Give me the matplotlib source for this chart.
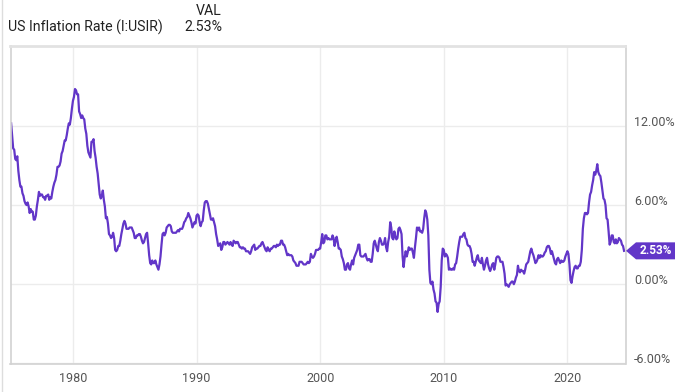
import numpy as np
import matplotlib
matplotlib.use("Agg")
import matplotlib.pyplot as plt
from matplotlib.lines import Line2D
from matplotlib.patches import Polygon
from matplotlib.transforms import ScaledTranslation

plt.rcParams['font.family'] = ['Roboto', 'DejaVu Sans']

# monthly US CPI inflation (%), Jan 1975 .. Aug 2024
start_year = 1975
rates = [
    12.2, 11.2, 10.3, 10.2, 9.5, 9.4, 9.7, 8.6, 7.9, 7.4, 7.4, 6.9,
    6.7, 6.3, 6.1, 6.0, 6.2, 5.9, 5.4, 5.7, 5.5, 5.5, 4.9, 4.9,
    5.2, 5.9, 6.4, 7.0, 6.7, 6.8, 6.8, 6.6, 6.6, 6.4, 6.7, 6.7,
    6.8, 6.4, 6.6, 6.5, 7.0, 7.4, 7.7, 7.9, 8.3, 8.9, 8.9, 9.0,
    9.3, 9.9, 10.1, 10.5, 10.9, 10.9, 11.3, 11.8, 12.2, 12.1, 12.6, 13.3,
    13.9, 14.2, 14.8, 14.7, 14.4, 14.4, 13.1, 12.9, 12.6, 12.8, 12.6, 12.5,
    11.8, 11.4, 10.5, 10.0, 9.8, 9.6, 10.8, 10.8, 11.0, 10.1, 9.6, 8.9,
    8.4, 7.6, 6.8, 6.5, 6.7, 7.1, 6.4, 5.9, 5.0, 5.1, 4.6, 3.8,
    3.7, 3.5, 3.6, 3.9, 3.5, 2.6, 2.5, 2.6, 2.9, 2.9, 3.3, 3.8,
    4.2, 4.6, 4.8, 4.6, 4.2, 4.2, 4.2, 4.3, 4.3, 4.3, 4.1, 3.9,
    3.5, 3.5, 3.7, 3.7, 3.8, 3.8, 3.6, 3.3, 3.1, 3.2, 3.5, 3.8,
    3.9, 3.1, 2.2, 1.6, 1.5, 1.8, 1.6, 1.6, 1.8, 1.5, 1.3, 1.1,
    1.5, 2.1, 3.0, 3.8, 3.9, 3.7, 3.9, 4.3, 4.4, 4.5, 4.5, 4.4,
    4.0, 3.9, 3.9, 3.9, 3.9, 4.0, 4.1, 4.0, 4.2, 4.2, 4.2, 4.4,
    4.7, 4.8, 5.0, 5.1, 5.4, 5.2, 5.0, 4.7, 4.3, 4.5, 4.7, 4.6,
    5.2, 5.3, 5.2, 4.7, 4.4, 4.7, 4.8, 5.6, 6.2, 6.3, 6.3, 6.1,
    5.7, 5.3, 4.9, 4.9, 5.0, 4.7, 4.4, 3.8, 3.4, 2.9, 3.0, 3.1,
    2.6, 2.8, 3.2, 3.2, 3.0, 3.1, 3.2, 3.1, 3.0, 3.2, 3.0, 2.9,
    3.3, 3.2, 3.1, 3.2, 3.2, 3.0, 2.8, 2.8, 2.7, 2.8, 2.7, 2.7,
    2.5, 2.5, 2.5, 2.4, 2.3, 2.5, 2.8, 2.9, 3.0, 2.6, 2.7, 2.7,
    2.8, 2.9, 2.9, 3.1, 3.2, 3.0, 2.8, 2.6, 2.5, 2.8, 2.6, 2.5,
    2.7, 2.7, 2.8, 2.9, 2.9, 2.8, 3.0, 2.9, 3.0, 3.0, 3.3, 3.3,
    3.0, 3.0, 2.8, 2.5, 2.2, 2.3, 2.2, 2.2, 2.2, 2.1, 1.8, 1.7,
    1.6, 1.4, 1.4, 1.4, 1.7, 1.7, 1.7, 1.6, 1.5, 1.5, 1.5, 1.6,
    1.7, 1.6, 1.7, 2.3, 2.1, 2.0, 2.1, 2.3, 2.6, 2.6, 2.6, 2.7,
    2.7, 3.2, 3.8, 3.1, 3.2, 3.7, 3.7, 3.4, 3.5, 3.4, 3.4, 3.4,
    3.7, 3.5, 2.9, 3.3, 3.6, 3.2, 2.7, 2.7, 2.6, 2.1, 1.9, 1.6,
    1.1, 1.1, 1.5, 1.6, 1.2, 1.1, 1.5, 1.8, 1.5, 2.0, 2.2, 2.4,
    2.6, 3.0, 3.0, 2.2, 2.1, 2.1, 2.1, 2.2, 2.3, 2.0, 1.8, 1.9,
    1.9, 1.7, 1.7, 2.3, 3.1, 3.3, 3.0, 2.7, 2.5, 3.2, 3.5, 3.3,
    3.0, 3.0, 3.1, 3.5, 2.8, 2.5, 3.2, 3.6, 4.7, 4.3, 3.5, 3.4,
    4.0, 3.6, 3.4, 3.5, 4.2, 4.3, 4.1, 3.8, 2.1, 1.3, 2.0, 2.5,
    2.1, 2.4, 2.8, 2.6, 2.7, 2.7, 2.4, 2.0, 2.8, 3.5, 4.3, 4.1,
    4.3, 4.0, 4.0, 3.9, 4.2, 5.0, 5.6, 5.4, 4.9, 3.7, 1.1, 0.1,
    0.0, 0.2, -0.4, -0.7, -1.3, -1.4, -2.1, -1.5, -1.3, -0.2, 1.8, 2.7,
    2.6, 2.1, 2.3, 2.2, 2.0, 1.1, 1.2, 1.1, 1.1, 1.2, 1.1, 1.5,
    1.6, 2.1, 2.7, 3.2, 3.6, 3.6, 3.6, 3.8, 3.9, 3.5, 3.4, 3.0,
    2.9, 2.9, 2.7, 2.3, 1.7, 1.7, 1.4, 1.7, 2.0, 2.2, 1.8, 1.7,
    1.6, 2.0, 1.5, 1.1, 1.4, 1.8, 2.0, 1.5, 1.2, 1.0, 1.2, 1.5,
    1.6, 1.1, 1.5, 2.0, 2.1, 2.1, 2.0, 1.7, 1.7, 1.7, 1.3, 0.8,
    -0.1, 0.0, -0.1, -0.2, 0.0, 0.1, 0.2, 0.2, 0.0, 0.2, 0.5, 0.7,
    1.4, 1.0, 0.9, 1.1, 1.0, 1.0, 0.8, 1.1, 1.5, 1.6, 1.7, 2.1,
    2.5, 2.7, 2.4, 2.2, 1.9, 1.6, 1.7, 1.9, 2.2, 2.0, 2.2, 2.1,
    2.1, 2.2, 2.4, 2.5, 2.8, 2.9, 2.9, 2.7, 2.3, 2.5, 2.2, 1.9,
    1.6, 1.5, 1.9, 2.0, 1.8, 1.6, 1.8, 1.7, 1.7, 1.8, 2.1, 2.3,
    2.5, 2.3, 1.5, 0.3, 0.1, 0.6, 1.0, 1.3, 1.4, 1.2, 1.2, 1.4,
    1.4, 1.7, 2.6, 4.2, 5.0, 5.4, 5.4, 5.3, 5.4, 6.2, 6.8, 7.0,
    7.5, 7.9, 8.5, 8.3, 8.6, 9.1, 8.5, 8.3, 8.2, 7.7, 7.1, 6.5,
    6.4, 6.0, 5.0, 4.9, 4.0, 3.0, 3.2, 3.7, 3.7, 3.2, 3.1, 3.4,
    3.1, 3.2, 3.5, 3.4, 3.3, 3.0, 2.9, 2.53,
]
x_ticks = [1980, 1990, 2000, 2010, 2020]
y_ticks = [-6, 0, 6, 12]
last_label = "2.53%"

purple = '#6236c8'
grid_c = '#ececec'
spine_c = '#d2d2d2'
text_c = '#555555'

dates = start_year + np.arange(len(rates)) / 12.0

fig = plt.figure(figsize=(6.85, 3.92), dpi=100)
ax = fig.add_axes([10.5 / 685, 28 / 392, 615 / 685, 318.5 / 392])

ax.plot(dates, rates, color=purple, linewidth=1.6, solid_joinstyle='round')

ax.set_xlim(1974.95, 2024.7)
ax.set_ylim(-6.05, 18.1)
ax.set_xticks(x_ticks)
ax.set_yticks(y_ticks)
ax.set_xticklabels([str(v) for v in x_ticks])
ax.set_yticklabels([f"{v:.2f}%" for v in y_ticks])
ax.yaxis.tick_right()
ax.tick_params(axis='both', length=0, labelsize=9, colors=text_c)
ax.tick_params(axis='x', pad=6)
ax.tick_params(axis='y', pad=6)
# y labels sit a little above their gridlines
up = ScaledTranslation(0, 5 / 100, fig.dpi_scale_trans)
for lab in ax.get_yticklabels():
    lab.set_transform(lab.get_transform() + up)
ax.grid(True, color=grid_c, linewidth=1.0)
ax.set_axisbelow(True)
for s in ax.spines.values():
    s.set_color(spine_c)
    s.set_linewidth(1.2)
ax.spines['top'].set_color('#e2e2e2')
ax.spines['top'].set_linewidth(2)

# end-value badge (pointed tag next to the right edge)
fig.canvas.draw()
y_px = ax.transData.transform((dates[-1], rates[-1]))[1]
x0 = ax.bbox.x1 + 0.5
h = 8.5
badge = Polygon([[x0, y_px], [x0 + 10, y_px + h], [x0 + 49, y_px + h],
                 [x0 + 49, y_px - h], [x0 + 10, y_px - h]],
                closed=True, transform=None, fc=purple, ec='none',
                clip_on=False)
fig.add_artist(badge)
fig.text((x0 + 29.5) / 685, y_px / 392, last_label, color='white',
         fontsize=8.5, fontweight='bold', ha='center', va='center')

# header
fig.text(8 / 685, 1 - 27 / 392, "US Inflation Rate (I:USIR)", fontsize=10.2,
         color='#222222', va='center', ha='left')
fig.text(222 / 685, 1 - 11 / 392, "VAL", fontsize=10.2, color='#222222',
         va='center', ha='right')
fig.text(222 / 685, 1 - 27 / 392, last_label, fontsize=10.2, color='#222222',
         va='center', ha='right')

fig.add_artist(Line2D([1.5 / 685, 1.5 / 685], [0, 1], color='#dddddd',
                      linewidth=1, transform=fig.transFigure))

fig.savefig('out.png', dpi=100)
